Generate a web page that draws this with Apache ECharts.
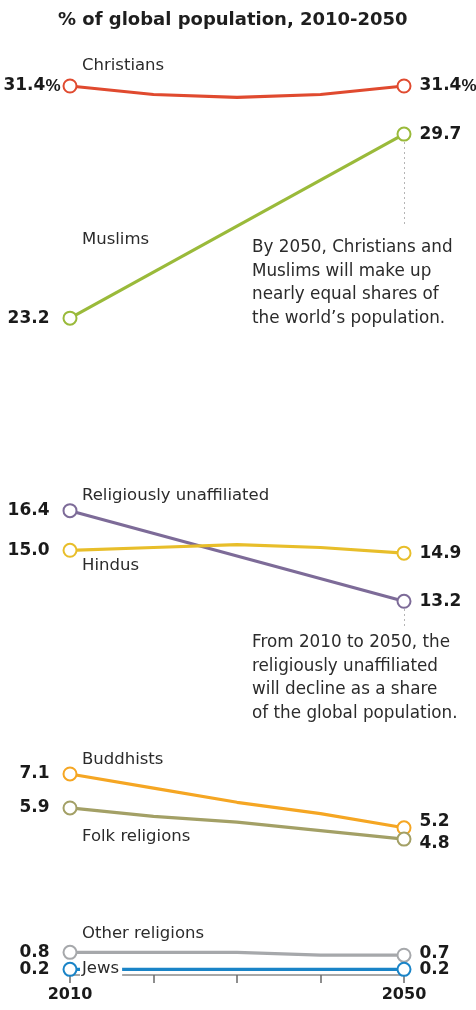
<!DOCTYPE html>
<html>
<head>
<meta charset="utf-8">
<title>% of global population, 2010-2050</title>
<script src="https://cdn.jsdelivr.net/npm/echarts@6/dist/echarts.min.js"></script>
<style>
	html, body { margin: 0; padding: 0; background: #fff; }
	#chart { width: 476px; height: 1010px; }
</style>
</head>
<body>
<div id="chart"></div>
<script>
// years on the x axis
var years = [2010, 2020, 2030, 2040, 2050];

// share of global population, %
var christians = [31.4, 31.1, 31.0, 31.1, 31.4];
var muslims = [23.2, null, null, null, 29.7];
var unaffiliated = [16.4, null, null, null, 13.2];
var hindus = [15.0, 15.1, 15.2, 15.1, 14.9];
var buddhists = [7.1, 6.6, 6.1, 5.7, 5.2];
var folk = [5.9, 5.6, 5.4, 5.1, 4.8];
var others = [0.8, 0.8, 0.8, 0.7, 0.7];
var jews = [0.2, 0.2, 0.2, 0.2, 0.2];

var FONT = '"DejaVu Sans", sans-serif';

// series setup: colour, label distance on the left, vertical nudges of the end labels
var groups = [
	{name: 'Christians', data: christians, color: '#e04a2f', pct: true, dl: 2, offL: 0, offR: 0},
	{name: 'Muslims', data: muslims, color: '#9aba3a', dl: 13, offL: 0, offR: 0},
	{name: 'Religiously unaffiliated', data: unaffiliated, color: '#7d6b98', dl: 13, offL: 0, offR: 0},
	{name: 'Hindus', data: hindus, color: '#e8be2a', dl: 13, offL: 0, offR: 0, fixed: true},
	{name: 'Buddhists', data: buddhists, color: '#f5a623', dl: 13, offL: 0, offR: -6},
	{name: 'Folk religions', data: folk, color: '#a3a066', dl: 13, offL: 0, offR: 4},
	{name: 'Other religions', data: others, color: '#a6a8ab', dl: 13, offL: 0, offR: -2},
	{name: 'Jews', data: jews, color: '#1a84c7', dl: 13, offL: 0, offR: 0}
];

var valueLabel = {
	show: true,
	fontFamily: FONT,
	fontWeight: 'bold',
	fontSize: 17,
	color: '#1a1a1a',
	rich: {
		v: {fontFamily: FONT, fontWeight: 'bold', fontSize: 17, color: '#1a1a1a'},
		p: {fontFamily: '"Liberation Sans Narrow", "Liberation Sans", sans-serif', fontWeight: 'bold', fontSize: 17, color: '#1a1a1a'}
	}
};

function makeLabel(pos, dist, dy, txt){
	var l = {};
	for (var k in valueLabel) l[k] = valueLabel[k];
	l.position = pos;
	l.distance = dist;
	l.offset = [0, dy];
	l.formatter = txt;
	return l;
}

function buildSeries(g){
	var last = g.data.length - 1;
	var pts = [];

	for (var i = 0; i < g.data.length; i++) {
		if (g.data[i] === null) continue;
		var item = {value: [years[i], g.data[i]]};
		var num = g.fixed ? g.data[i].toFixed(1) : String(g.data[i]);
		var txt = g.pct ? '{v|' + num + '}{p|%}' : num;

		if (i == 0) {
			item.symbolSize = 13;
			item.label = makeLabel('left', g.dl, g.offL, txt);
		} else if (i == last) {
			item.symbolSize = 13;
			item.label = makeLabel('right', 8, g.offR, txt);
		} else {
			item.symbolSize = 0;
		}
		pts.push(item);
	}

	return {
		name: g.name,
		type: 'line',
		data: pts,
		connectNulls: true,
		symbol: 'circle',
		showAllSymbol: true,
		lineStyle: {color: g.color, width: 3.2},
		itemStyle: {color: '#fff', borderColor: g.color, borderWidth: 2},
		emphasis: {disabled: true},
		z: 3
	};
}

function nameText(txt, x, y, extra){
	var s = {text: txt, x: x, y: y, verticalAlign: 'middle', font: '16.5px ' + FONT, fill: '#2b2b2b'};
	if (extra) for (var k in extra) s[k] = extra[k];
	return {type: 'text', z: 100, style: s};
}

var noteFont = '16.8px ' + FONT;

var chart = echarts.init(document.getElementById('chart'));

chart.setOption({
	animation: false,
	title: {
		text: '% of global population, 2010-2050',
		left: 53,
		top: 6,
		textStyle: {fontFamily: FONT, fontWeight: 'bold', fontSize: 18, color: '#1e1e1e'}
	},
	grid: {left: 70, right: 72, top: 69, bottom: 35},
	xAxis: {
		type: 'value',
		min: 2010,
		max: 2050,
		interval: 10,
		splitLine: {show: false},
		axisLine: {show: true, lineStyle: {color: '#8a8a8a', width: 1.5}},
		axisTick: {show: true, length: 8, lineStyle: {color: '#6a6a6a', width: 1.5}},
		axisLabel: {
			fontFamily: FONT,
			fontWeight: 'bold',
			fontSize: 16,
			color: '#1a1a1a',
			margin: 12,
			formatter: function(v){ return (v == 2010 || v == 2050) ? String(v) : ''; }
		}
	},
	yAxis: {
		type: 'value',
		min: 0,
		max: 32,
		show: false
	},
	series: groups.map(buildSeries),
	graphic: [
		nameText('Christians', 82, 66),
		nameText('Muslims', 82, 240),
		nameText('Religiously unaffiliated', 82, 496),
		nameText('Hindus', 82, 566),
		nameText('Buddhists', 82, 760),
		nameText('Folk religions', 82, 837),
		nameText('Other religions', 82, 934),
		nameText('Jews', 80, 969, {backgroundColor: '#fff', padding: [1, 3, 5, 2]}),
		{
			type: 'text', z: 100,
			style: {
				x: 252, y: 236,
				text: 'By 2050, Christians and\nMuslims will make up\nnearly equal shares of\nthe world\u2019s population.',
				font: noteFont, lineHeight: 23.5, fill: '#2b2b2b'
			}
		},
		{
			type: 'text', z: 100,
			style: {
				x: 252, y: 631,
				text: 'From 2010 to 2050, the\nreligiously unaffiliated\nwill decline as a share\nof the global population.',
				font: noteFont, lineHeight: 23.5, fill: '#2b2b2b'
			}
		},
		{
			type: 'line', z: 1,
			shape: {x1: 404.5, y1: 142, x2: 404.5, y2: 226},
			style: {stroke: '#b5b5b5', lineWidth: 1, lineDash: [2, 3]}
		},
		{
			type: 'line', z: 1,
			shape: {x1: 404.5, y1: 609, x2: 404.5, y2: 626},
			style: {stroke: '#b5b5b5', lineWidth: 1, lineDash: [2, 3]}
		}
	]
});
</script>
</body>
</html>
